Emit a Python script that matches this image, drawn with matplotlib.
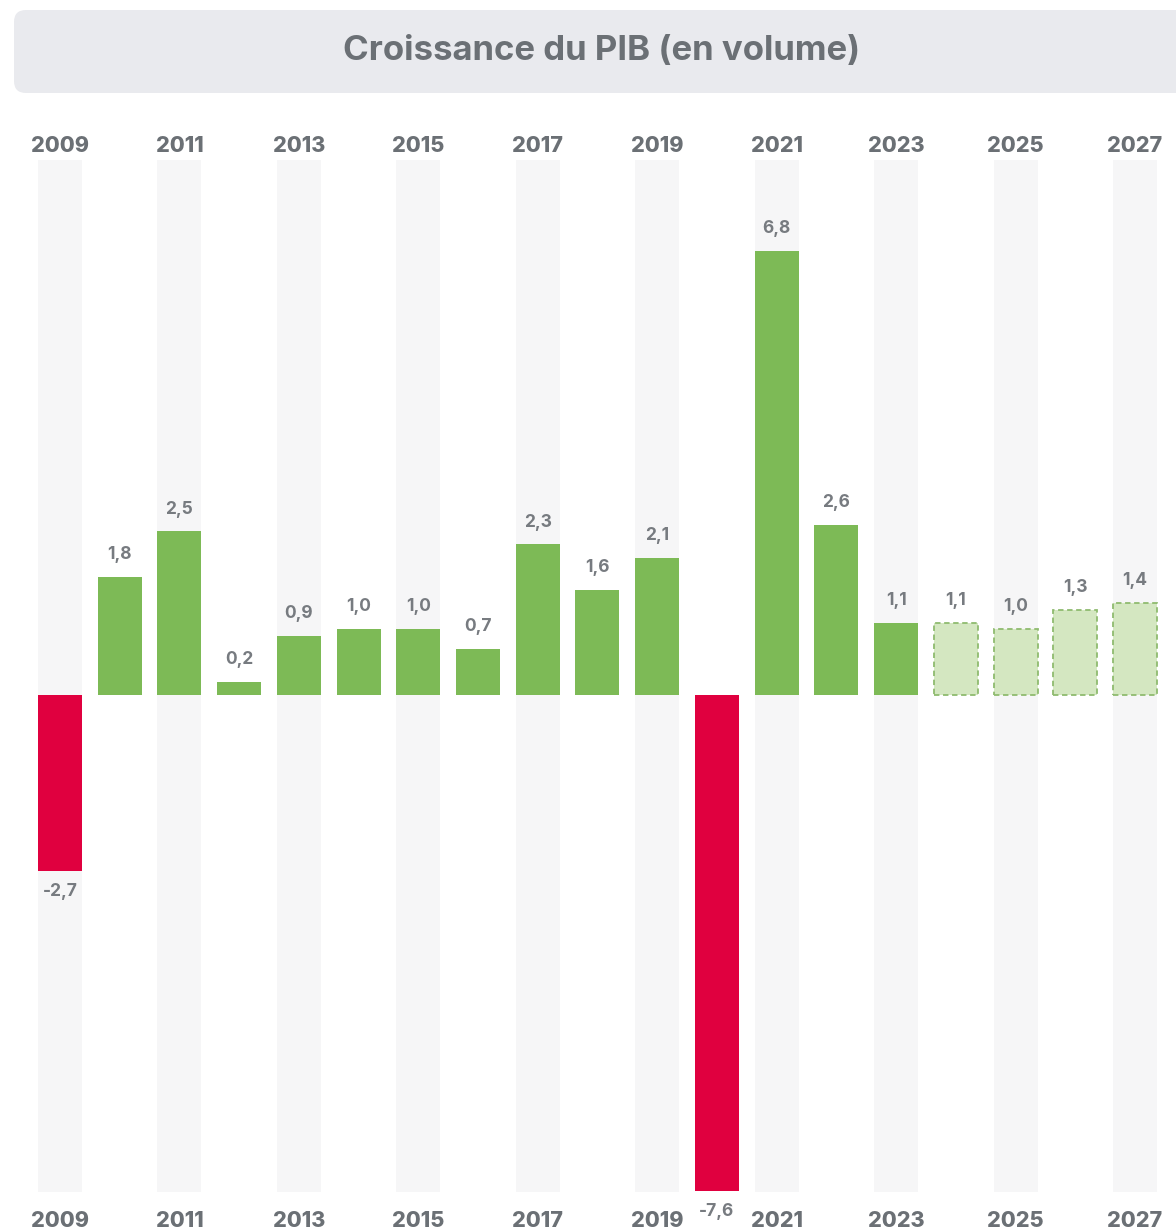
import matplotlib
matplotlib.use("Agg")
import matplotlib.pyplot as plt
from matplotlib.patches import FancyBboxPatch

years = list(range(2009, 2028))
growth = [-2.7, 1.8, 2.5, 0.2, 0.9, 1.0, 1.0, 0.7, 2.3, 1.6, 2.1,
          -7.6, 6.8, 2.6, 1.1, 1.1, 1.0, 1.3, 1.4]
first_forecast = 2024

GREEN = "#7dba56"
RED = "#e0003f"
LIGHT = "#d4e7c1"
EDGE = "#8fbb6f"
STRIP = "#f6f6f7"
TXT = "#6b7075"

plt.rcParams['font.family'] = ['Inter', 'DejaVu Sans']

W, H = 1176, 1229
fig = plt.figure(figsize=(W / 100, H / 100), dpi=100)

# title box
box = FancyBboxPatch((0.14, (H - 93) / 100), 11.9, 0.83,
                     boxstyle="round,pad=0,rounding_size=0.12",
                     transform=fig.dpi_scale_trans, fc="#e9eaee", ec="none")
fig.patches.append(box)
fig.text(602 / W, 1 - 51 / H, "Croissance du PIB (en volume)", ha="center", va="center",
         fontsize=25, fontweight="bold", color=TXT)

top_px, bot_px = 160, 1192
ax = fig.add_axes([0, (H - bot_px) / H, 1, (bot_px - top_px) / H])
step = 59.72
x0 = 60
ax.set_xlim(-x0 / step, (W - x0) / step)
ax.set_ylim(-7.62, 8.19)
ax.axis("off")

bw = 44 / step
idx = list(range(len(years)))
xt = ax.get_xaxis_transform()
for i, y in zip(idx, years):
    if y % 2 == 1:
        ax.axvspan(i - bw / 2, i + bw / 2, color=STRIP, zorder=0, lw=0)
        ax.annotate(str(y), (i, 1.0), xycoords=xt, xytext=(0, 3), textcoords="offset points",
                    ha="center", va="bottom", fontsize=15.5, fontweight="heavy", color=TXT)
        ax.annotate(str(y), (i, 0.0), xycoords=xt, xytext=(0, -14), textcoords="offset points",
                    ha="center", va="top", fontsize=15.5, fontweight="heavy", color=TXT)

for i, y, v in zip(idx, years, growth):
    if y >= first_forecast:
        ax.bar(i, v, width=bw, color=LIGHT, edgecolor=EDGE, linestyle=(0, (3, 2)),
               linewidth=1.3, zorder=2)
    else:
        ax.bar(i, v, width=bw, color=GREEN if v >= 0 else RED, lw=0, zorder=2)
    lab = f"{v:.1f}".replace(".", ",")
    if v >= 0:
        ax.annotate(lab, (i, v), xytext=(0, 10), textcoords="offset points",
                    ha="center", va="bottom", fontsize=12.5, fontweight="bold", color="#777b80")
    else:
        ax.annotate(lab, (i, v), xytext=(0, -9), textcoords="offset points",
                    ha="center", va="top", fontsize=12.5, fontweight="bold", color="#777b80")

fig.savefig("out.png", dpi=100)
